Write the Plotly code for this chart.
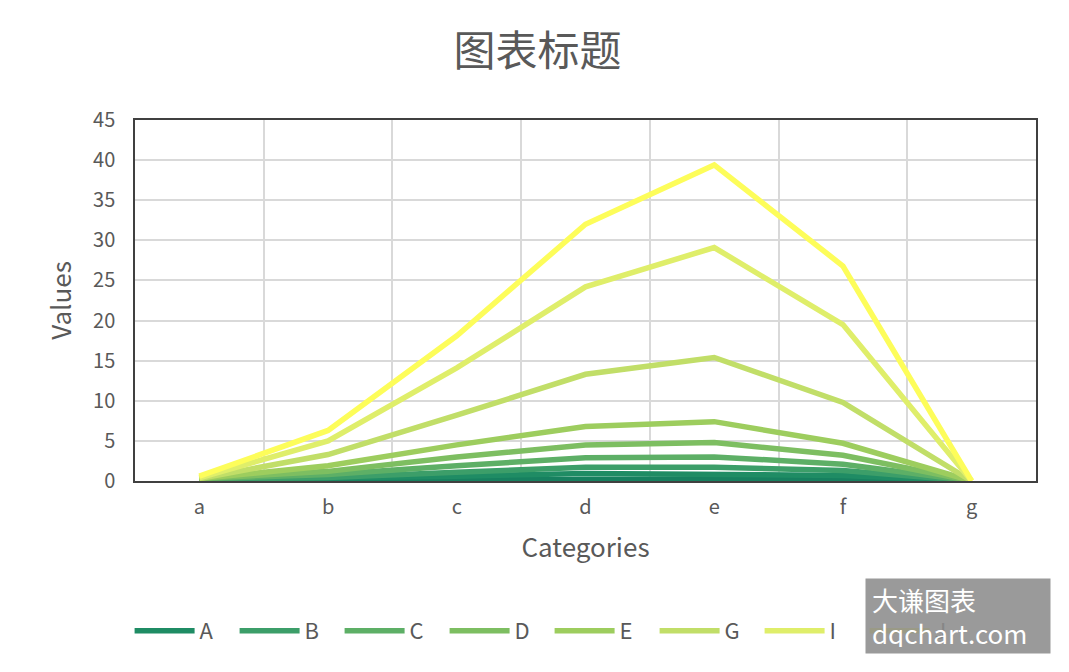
import plotly.graph_objects as go

# categories and series
categories = ["a", "b", "c", "d", "e", "f", "g"]

series_names = ["", "A", "B", "C", "D", "E", "G", "I", "J"]
series_values = [
    [0.05, 0.1, 0.2, 0.35, 0.35, 0.3, 0],
    [0.15, 0.3, 0.6, 0.95, 0.8, 0.7, 0],
    [0.2, 0.45, 1.1, 1.7, 1.7, 1.3, 0],
    [0.25, 0.8, 1.9, 2.9, 3.0, 2.1, 0],
    [0.3, 1.2, 3.0, 4.5, 4.8, 3.2, 0],
    [0.3, 1.9, 4.5, 6.8, 7.4, 4.7, 0],
    [0.3, 3.3, 8.2, 13.3, 15.4, 9.8, 0],
    [0.4, 5.0, 14.1, 24.2, 29.1, 19.5, 0],
    [0.6, 6.3, 18.1, 32.0, 39.4, 26.8, 0],
]
series_colors = ["#17805f", "#1f8c64", "#3c9e69", "#5daf66", "#7dbe61",
                 "#9dcd5e", "#c1de68", "#dfee6a", "#fdfd5a"]

fig = go.Figure()
for name, vals, col in zip(series_names, series_values, series_colors):
    fig.add_trace(go.Scatter(
        x=categories, y=vals, name=name, mode="lines",
        line=dict(color=col, width=5.5),
        showlegend=bool(name),
    ))

font_main = "Noto Sans CJK SC"

fig.update_layout(
    width=1069, height=672,
    paper_bgcolor="white", plot_bgcolor="white",
    margin=dict(l=127, r=41, t=112, b=199),
    font=dict(family=font_main, color="#595959", size=20),
    title=dict(text="图表标题", x=0.4953, xanchor="center", y=0.936, yanchor="middle",
               font=dict(size=42, color="#595959")),
    legend=dict(orientation="h", x=-0.006, xanchor="left", y=-0.4155, yanchor="middle",
                font=dict(size=22, color="#595959"),
                entrywidth=30, entrywidthmode="pixels", itemwidth=60),
    xaxis=dict(
        title=dict(text="Categories", font=dict(size=26), standoff=20),
        type="category", range=[-0.5, 6.5], tickson="boundaries",
        showgrid=True, gridcolor="#d9d9d9", gridwidth=1.5,
        showline=True, linecolor="#404040", linewidth=1.5, mirror=True,
        ticks="", tickfont=dict(size=20), ticklabelstandoff=7,
    ),
    yaxis=dict(
        title=dict(text="Values", font=dict(size=26), standoff=14),
        range=[0, 45], dtick=5,
        showgrid=True, gridcolor="#d9d9d9", gridwidth=1.5,
        showline=True, linecolor="#404040", linewidth=1.5, mirror=True,
        ticks="", tickfont=dict(size=20), zeroline=False, ticklabelstandoff=14,
    ),
    annotations=[dict(
        text="大谦图表<br>dqchart.com", xref="paper", yref="paper",
        x=1.0166, y=-0.374, xanchor="right", yanchor="middle", align="left",
        showarrow=False, font=dict(size=26, color="white"),
        width=172, height=62,
        bgcolor="rgba(140,140,140,0.88)", borderpad=6,
    )],
)

fig.write_html("out.html")
